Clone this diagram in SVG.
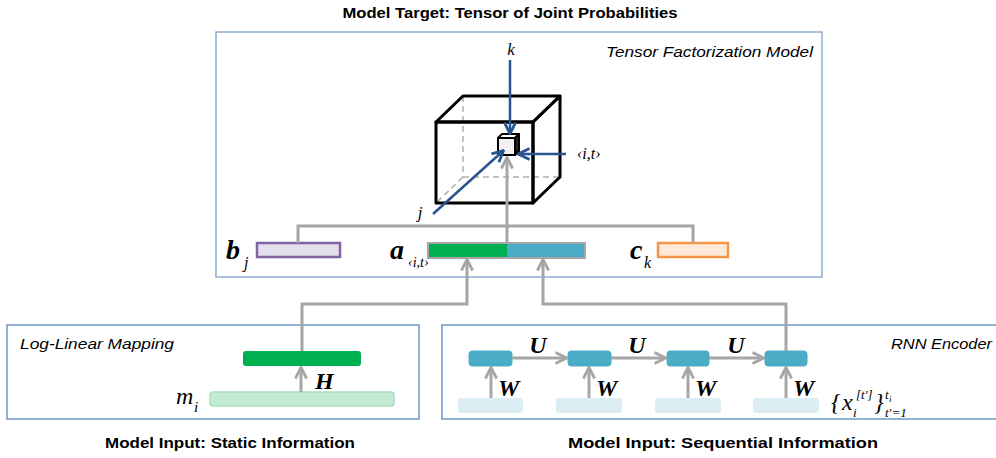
<svg xmlns="http://www.w3.org/2000/svg" width="996" height="458" viewBox="0 0 996 458">
<style>
.title{font-family:"Liberation Sans",Arial,sans-serif;font-weight:bold;font-size:15px;fill:#000}
.lab{font-family:"Liberation Sans",Arial,sans-serif;font-style:italic;font-size:15px;fill:#000}
.m{font-family:"Liberation Serif","Times New Roman",serif;font-style:italic;fill:#000}
.mb{font-family:"Liberation Serif","Times New Roman",serif;font-style:italic;font-weight:bold;fill:#000}
.gray{fill:none;stroke:#A6A6A6;stroke-width:3}
.blue{fill:none;stroke:#2A5490;stroke-width:2.5}
.cell{fill:#4BACC6;stroke:#4BACC6}
.inp{fill:#DAEEF3}
</style>
<defs>
<marker id="ag" viewBox="0 0 10 10" refX="8.5" refY="5" markerWidth="14" markerHeight="14" markerUnits="userSpaceOnUse" orient="auto">
<path d="M1,1 L9,5 L1,9" fill="none" stroke="#A6A6A6" stroke-width="2"/>
</marker>
<marker id="ab" viewBox="0 0 10 10" refX="8.5" refY="5" markerWidth="14" markerHeight="14" markerUnits="userSpaceOnUse" orient="auto">
<path d="M1,1 L9,5 L1,9" fill="none" stroke="#2A5490" stroke-width="2"/>
</marker>
</defs>
<rect width="996" height="458" fill="#fff"/>

<text class="title" x="510" y="18" text-anchor="middle" textLength="335" lengthAdjust="spacingAndGlyphs">Model Target: Tensor of Joint Probabilities</text>

<g id="tensor-box">
<rect x="216" y="32" width="606" height="245" fill="none" stroke="#8EACD4" stroke-width="1.5"/>
<text class="lab" x="606" y="57" textLength="207" lengthAdjust="spacingAndGlyphs">Tensor Factorization Model</text>
</g>

<g id="cube">
<g fill="none" stroke="#B0B0B0" stroke-width="1.5" stroke-dasharray="6,4">
<line x1="463" y1="96" x2="463" y2="177"/>
<line x1="463" y1="177" x2="560" y2="177"/>
<line x1="463" y1="177" x2="436" y2="203"/>
</g>
<g fill="none" stroke="#000" stroke-width="3" stroke-linejoin="round">
<rect x="436" y="122" width="97" height="81"/>
<polygon points="436,122 463,96 560,96 533,122"/>
<polygon points="533,122 560,96 560,177 533,203"/>
</g>
</g>

<g id="cell-ijk">
<polygon points="498,138 502,134 519,134 515,138" fill="#fff" stroke="#000" stroke-width="2" stroke-linejoin="round"/>
<polygon points="515,138 519,134 519,151 515,155" fill="#222" stroke="#000" stroke-width="2" stroke-linejoin="round"/>
<rect x="498" y="138" width="17" height="17" fill="#F2F2F2" stroke="#000" stroke-width="2"/>
</g>

<g id="b-j">
<rect x="257" y="243" width="83" height="14" fill="#E4DFEC" stroke="#8064A2" stroke-width="2.5"/>
<text class="mb" x="226" y="259" font-size="28">b</text>
<text class="m" x="244" y="268" font-size="16">j</text>
</g>
<g id="a-it">
<rect x="428" y="243" width="79" height="15" fill="#00B050"/>
<rect x="507" y="243" width="78" height="15" fill="#4BACC6"/>
<rect x="428" y="243" width="157" height="15" fill="none" stroke="#A6A6A6" stroke-width="2"/>
<text class="mb" x="390" y="259" font-size="28">a</text>
<text class="m" x="408" y="267" font-size="14">‹i,t›</text>
</g>
<g id="c-k">
<rect x="658" y="243" width="70" height="14" fill="#FDE9D9" stroke="#F79646" stroke-width="2.5"/>
<text class="mb" x="630" y="259" font-size="28">c</text>
<text class="m" x="644" y="268" font-size="16">k</text>
</g>

<g id="loglinear">
<rect x="7" y="325" width="412" height="94" fill="none" stroke="#7296CA" stroke-width="1.5"/>
<text class="lab" x="20" y="349" textLength="154" lengthAdjust="spacingAndGlyphs">Log-Linear Mapping</text>
<rect x="243" y="351" width="118" height="15" rx="3" fill="#00B050"/>
<rect x="210" y="392" width="184" height="14" rx="3" fill="#C3EBD3" stroke="#A9E0C0" stroke-width="1.5"/>
<text class="mb" x="315" y="389" font-size="24">H</text>
<text class="m" x="176" y="404" font-size="24">m</text>
<text class="m" x="194" y="412" font-size="15">i</text>
</g>

<g id="rnn">
<rect x="442" y="325" width="560" height="94" fill="none" stroke="#7296CA" stroke-width="1.5"/>
<text class="lab" x="891" y="349" textLength="101" lengthAdjust="spacingAndGlyphs">RNN Encoder</text>
<rect class="cell" x="469" y="351" width="43" height="15" rx="3"/>
<rect class="cell" x="568" y="351" width="43" height="15" rx="3"/>
<rect class="cell" x="667" y="351" width="42" height="15" rx="3"/>
<rect class="cell" x="765" y="351" width="42" height="15" rx="3"/>
<rect class="inp" x="458" y="398" width="65" height="15" rx="3"/>
<rect class="inp" x="556" y="398" width="66" height="15" rx="3"/>
<rect class="inp" x="655" y="398" width="66" height="15" rx="3"/>
<rect class="inp" x="753" y="398" width="66" height="15" rx="3"/>
<text class="mb" x="538" y="353" font-size="24" text-anchor="middle">U</text>
<text class="mb" x="637" y="353" font-size="24" text-anchor="middle">U</text>
<text class="mb" x="736" y="353" font-size="24" text-anchor="middle">U</text>
<text class="mb" x="498" y="396" font-size="24">W</text>
<text class="mb" x="596" y="396" font-size="24">W</text>
<text class="mb" x="695" y="396" font-size="24">W</text>
<text class="mb" x="793" y="396" font-size="24">W</text>
<text class="m" x="831" y="410" font-size="24" font-style="normal">{</text>
<text class="m" x="842" y="410" font-size="24">x</text>
<text class="m" x="853" y="417" font-size="13">i</text>
<text class="m" x="856" y="399" font-size="13">[t']</text>
<text class="m" x="874" y="410" font-size="24" font-style="normal">}</text>
<text class="m" x="885" y="399" font-size="13">t</text>
<text class="m" x="889" y="402" font-size="9">i</text>
<text class="m" x="885" y="417" font-size="13">t'=1</text>
</g>

<text class="title" x="230" y="448" text-anchor="middle" textLength="250" lengthAdjust="spacingAndGlyphs">Model Input: Static Information</text>
<text class="title" x="723" y="448" text-anchor="middle" textLength="310" lengthAdjust="spacingAndGlyphs">Model Input: Sequential Information</text>

<g id="connectors">
<path class="gray" d="M298,243 V226 H693 V243"/>
<path class="gray" d="M507,243 V158" marker-end="url(#ag)"/>
<path class="gray" d="M302,351 V304 H467 V260" marker-end="url(#ag)"/>
<path class="gray" d="M786,351 V304 H543 V260" marker-end="url(#ag)"/>
<path class="gray" d="M301,392 V368" marker-end="url(#ag)"/>
<path class="gray" d="M491,398 V368" marker-end="url(#ag)"/>
<path class="gray" d="M589,398 V368" marker-end="url(#ag)"/>
<path class="gray" d="M688,398 V368" marker-end="url(#ag)"/>
<path class="gray" d="M786,398 V368" marker-end="url(#ag)"/>
<path class="gray" d="M512,358 H566" marker-end="url(#ag)"/>
<path class="gray" d="M611,358 H665" marker-end="url(#ag)"/>
<path class="gray" d="M709,358 H763" marker-end="url(#ag)"/>
<path class="blue" d="M510,60 V133" marker-end="url(#ab)"/>
<path class="blue" d="M566,154 H519" marker-end="url(#ab)"/>
<path class="blue" d="M433,214 L503,151" marker-end="url(#ab)"/>
</g>
<text class="m" x="511" y="55" font-size="17" text-anchor="middle">k</text>
<text class="m" x="420" y="218" font-size="17" text-anchor="middle">j</text>
<text class="m" x="577" y="159" font-size="16">‹i,t›</text>
</svg>
